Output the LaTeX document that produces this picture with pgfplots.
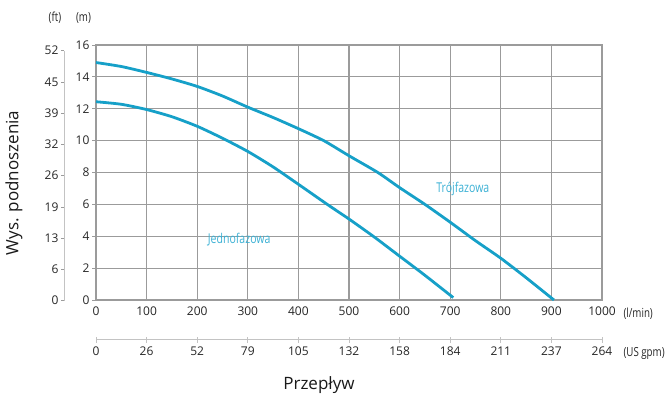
\documentclass[border=0pt]{standalone}
\usepackage{fontspec}
\setmainfont{Open Sans}
\newfontfamily\cond[FakeStretch=0.78]{Open Sans}
\usepackage{pgfplots}
\pgfplotsset{compat=1.18}

\definecolor{curve}{RGB}{22,160,200}
\definecolor{lbl}{RGB}{58,176,212}
\definecolor{gridc}{RGB}{155,155,155}
\definecolor{axc}{RGB}{195,195,195}

% Pump curves: head [m] vs flow [l/min]
\pgfplotstableread{
q     h
0     14.90
50    14.65
100   14.28
150   13.87
200   13.40
250   12.80
300   12.10
350   11.45
400   10.75
450   10.00
500   9.05
557   8.00
600   7.05
650   6.00
700   4.88
750   3.72
800   2.62
850   1.40
905   0.00
}\trojfazowa

\pgfplotstableread{
q     h
0     12.44
50    12.28
100   11.95
150   11.50
200   10.90
250   10.15
300   9.32
350   8.35
405   7.15
457   6.00
500   5.08
550   3.95
600   2.75
650   1.55
706   0.15
}\jednofazowa

\begin{document}
\begin{tikzpicture}
\useasboundingbox (0pt,0pt) rectangle (667pt,401pt);

% main axis: metres vs l/min
\begin{axis}[
  at={(96pt,101pt)}, anchor=south west,
  scale only axis, width=506pt, height=255pt,
  xmin=0, xmax=1000, ymin=0, ymax=16,
  xtick={0,100,...,1000}, ytick={0,2,...,16},
  grid=major, grid style={gridc, line width=1.1pt},
  axis line style={gridc, line width=1.1pt},
  tick pos=left, tick align=outside, major tick length=4pt,
  xtick style={draw=none},
  ytick style={gridc, line width=0.8pt},
  /pgf/number format/assume math mode=true,
  /pgf/number format/1000 sep={},
  tick label style={font=\fontsize{12}{14}\selectfont, black!85},
  xticklabel style={yshift=1pt},
  yticklabel style={xshift=1pt},
  clip=false,
]
\addplot[curve, line width=2.8pt, line join=round, smooth, tension=0.4] table[x=q,y=h] {\trojfazowa};
\addplot[curve, line width=2.8pt, line join=round, smooth, tension=0.4] table[x=q,y=h] {\jednofazowa};
\node[lbl, font=\cond\fontsize{13.5}{15}\selectfont] at (axis cs:725,6.96) {Trójfazowa};
\node[lbl, font=\cond\fontsize{13.5}{15}\selectfont] at (axis cs:283,3.76) {Jednofazowa};
\end{axis}

% feet scale
\begin{axis}[
  at={(64.5pt,100.3pt)}, anchor=south west,
  scale only axis, width=1pt, height=250pt,
  xmin=0, xmax=1, ymin=0, ymax=8,
  axis x line=none, axis y line=left,
  axis line style={-, axc, line width=1pt},
  ytick={0,...,8}, yticklabels={0,6,13,19,26,32,39,45,52},
  tick align=outside, major tick length=3.5pt,
  ytick style={gridc, line width=0.8pt},
  /pgf/number format/assume math mode=true,
  tick label style={font=\fontsize{12}{14}\selectfont, black!85},
  yticklabel style={xshift=1pt},
]
\end{axis}

% US gpm scale
\begin{axis}[
  at={(96pt,61pt)}, anchor=south west,
  scale only axis, width=506pt, height=1pt,
  xmin=0, xmax=1000, ymin=0, ymax=1,
  axis y line=none, axis x line=bottom,
  axis line style={-, axc, line width=1pt},
  xtick={0,100,...,1000},
  xticklabels={0,26,52,79,105,132,158,184,211,237,264},
  tick align=center, major tick length=6pt,
  xtick style={axc, line width=0.8pt},
  /pgf/number format/assume math mode=true,
  tick label style={font=\fontsize{12}{14}\selectfont, black!85},
]
\end{axis}

% units and titles
\node[anchor=west, font=\cond\fontsize{12.5}{14}\selectfont, black!85] at (620pt,87pt) {(l/min)};
\node[anchor=west, font=\cond\fontsize{12.5}{14}\selectfont, black!85] at (620pt,48pt) {(US gpm)};
\node[font=\cond\fontsize{12.5}{14}\selectfont, black!85] at (55pt,383pt) {(ft)};
\node[font=\cond\fontsize{12.5}{14}\selectfont, black!85] at (83.5pt,383pt) {(m)};
\node[font=\fontsize{17}{20}\selectfont, black!90] at (319pt,16pt) {Przepływ};
\node[rotate=90, font=\fontsize{17}{20}\selectfont, black!90] at (14pt,218pt) {Wys. podnoszenia};
\end{tikzpicture}
\end{document}
